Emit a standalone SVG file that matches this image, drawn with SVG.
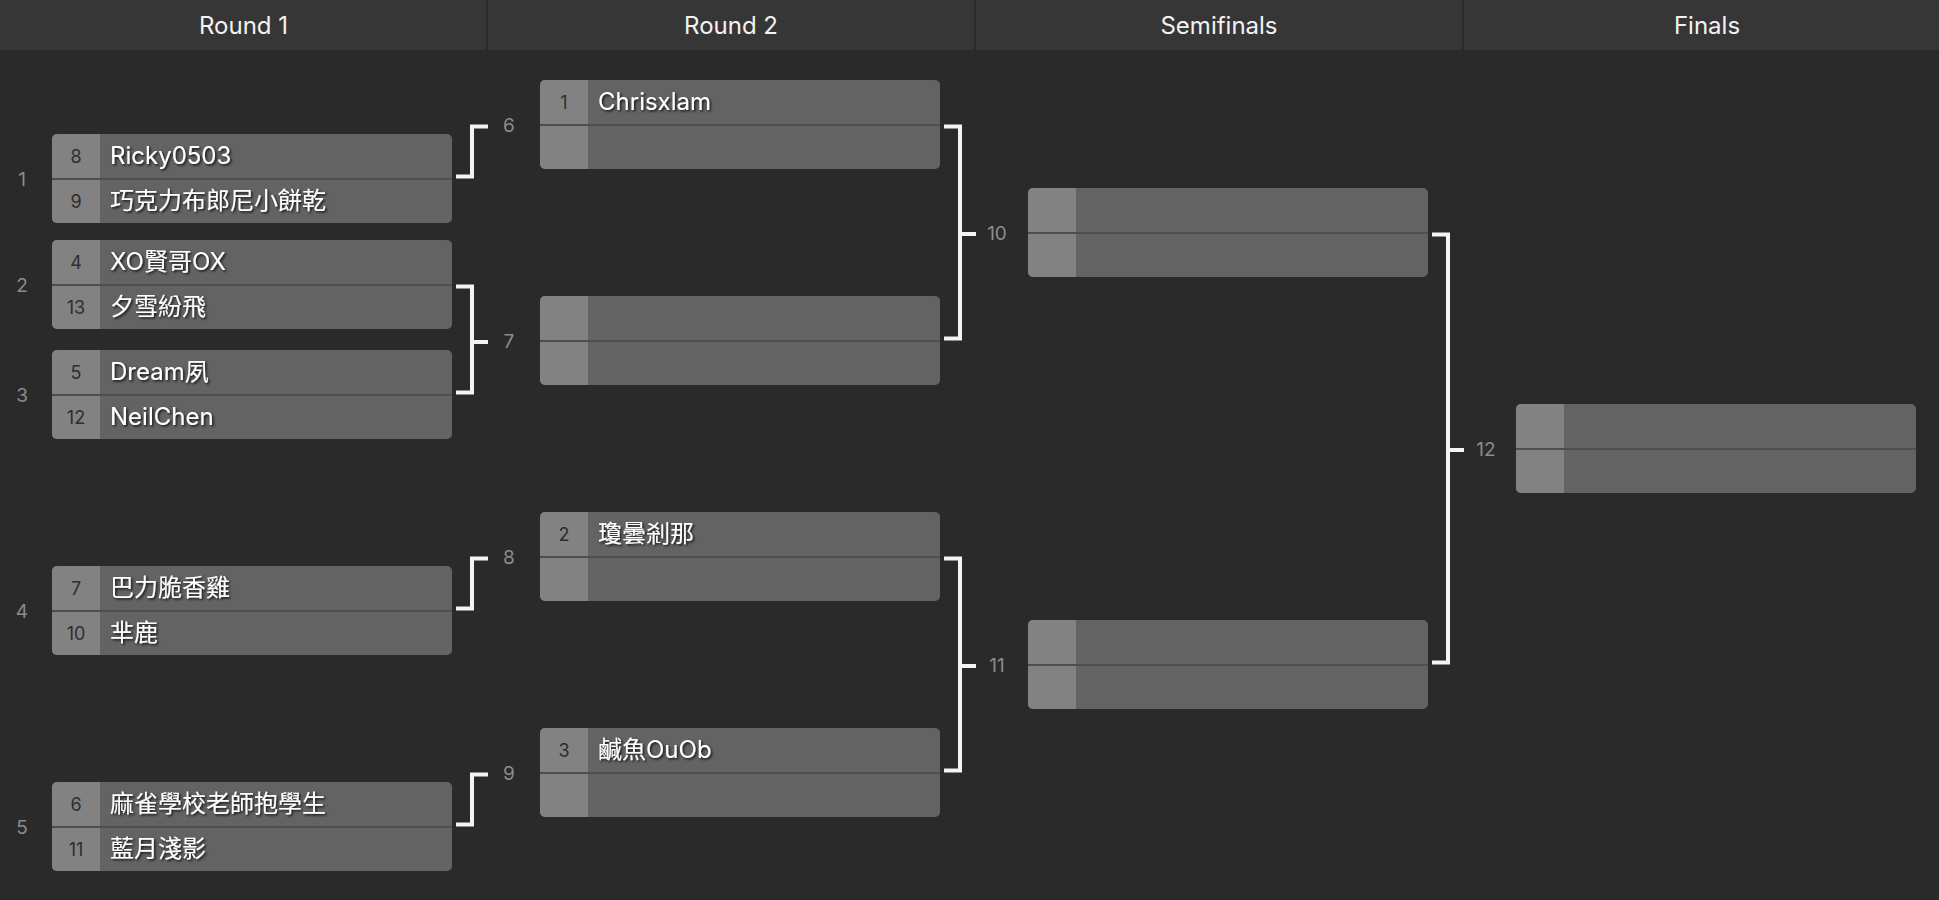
<svg xmlns="http://www.w3.org/2000/svg" xmlns:xlink="http://www.w3.org/1999/xlink" width="1939" height="900" viewBox="0 0 1939 900">
<style>
.hdr{font-family:Inter,"Noto Sans",sans-serif;font-size:24px;fill:#f2f2f2;text-anchor:middle}
.lbl{font-family:Inter,"Noto Sans",sans-serif;font-size:19px;fill:#8c8c8c;text-anchor:middle}
.seed{font-family:Inter,"Noto Sans",sans-serif;font-size:18px;fill:#2e2e2e;text-anchor:middle}
.name{font-family:Inter,"Noto Sans CJK TC","Noto Sans",sans-serif;font-size:24px;fill:#ffffff;filter:url(#sh)}
.conn{fill:none;stroke:#f4f4f4;stroke-width:4;stroke-linejoin:miter;stroke-linecap:butt}
</style>
<defs>
<filter id="sh" x="-10%" y="-30%" width="130%" height="170%">
<feDropShadow dx="1.5" dy="1.5" stdDeviation="1" flood-color="#000" flood-opacity="0.8"/>
</filter>
<g id="box">
<rect x="0" y="0" width="400" height="89" rx="5" fill="#636363"/>
<path d="M5,0 H48 V89 H5 A5,5 0 0 1 0,84 V5 A5,5 0 0 1 5,0 Z" fill="#828282"/>
<rect x="0" y="44" width="400" height="2" fill="#4e4e4e"/>
</g>
</defs>
<rect x="0" y="0" width="1939" height="900" fill="#2a2a2a"/>
<g id="header">
<rect x="0" y="0" width="1939" height="50" fill="#363636"/>
<rect x="486" y="0" width="2" height="50" fill="#2c2c2c"/>
<rect x="974" y="0" width="2" height="50" fill="#2c2c2c"/>
<rect x="1462" y="0" width="2" height="50" fill="#2c2c2c"/>
<text class="hdr" x="243.5" y="33.5">Round 1</text>
<text class="hdr" x="731" y="33.5">Round 2</text>
<text class="hdr" x="1219" y="33.5">Semifinals</text>
<text class="hdr" x="1707" y="33.5">Finals</text>
</g>
<g id="connectors">
<path class="conn" d="M456,176.5 H472 V126.5 H488"/>
<path class="conn" d="M456,286.5 H472 V392.5 H456 M472,342 H488"/>
<path class="conn" d="M456,608.5 H472 V558.5 H488"/>
<path class="conn" d="M456,824.5 H472 V774.5 H488"/>
<path class="conn" d="M944,126.5 H960 V338.5 H944 M960,234 H976"/>
<path class="conn" d="M944,558.5 H960 V770.5 H944 M960,666 H976"/>
<path class="conn" d="M1432,234.5 H1448 V662.5 H1432 M1448,450 H1464"/>
</g>
<g id="match1">
<text class="lbl" x="22" y="185.5">1</text>
<use xlink:href="#box" x="52" y="134"/>
<text class="seed" x="76" y="162.5">8</text><text class="name" x="110" y="164">Ricky0503</text>
<text class="seed" x="76" y="207.5">9</text><text class="name" x="110" y="209">巧克力布郎尼小餅乾</text>
</g>
<g id="match2">
<text class="lbl" x="22" y="291.5">2</text>
<use xlink:href="#box" x="52" y="240"/>
<text class="seed" x="76" y="268.5">4</text><text class="name" x="110" y="270">XO賢哥OX</text>
<text class="seed" x="76" y="313.5">13</text><text class="name" x="110" y="315">夕雪紛飛</text>
</g>
<g id="match3">
<text class="lbl" x="22" y="401.5">3</text>
<use xlink:href="#box" x="52" y="350"/>
<text class="seed" x="76" y="378.5">5</text><text class="name" x="110" y="380">Dream夙</text>
<text class="seed" x="76" y="423.5">12</text><text class="name" x="110" y="425">NeilChen</text>
</g>
<g id="match4">
<text class="lbl" x="22" y="617.5">4</text>
<use xlink:href="#box" x="52" y="566"/>
<text class="seed" x="76" y="594.5">7</text><text class="name" x="110" y="596">巴力脆香雞</text>
<text class="seed" x="76" y="639.5">10</text><text class="name" x="110" y="641">芈鹿</text>
</g>
<g id="match5">
<text class="lbl" x="22" y="833.5">5</text>
<use xlink:href="#box" x="52" y="782"/>
<text class="seed" x="76" y="810.5">6</text><text class="name" x="110" y="812">麻雀學校老師抱學生</text>
<text class="seed" x="76" y="855.5">11</text><text class="name" x="110" y="857">藍月淺影</text>
</g>
<g id="match6">
<text class="lbl" x="509" y="131.5">6</text>
<use xlink:href="#box" x="540" y="80"/>
<text class="seed" x="564" y="108.5">1</text><text class="name" x="598" y="110">Chrisxlam</text>
</g>
<g id="match7">
<text class="lbl" x="509" y="347.5">7</text>
<use xlink:href="#box" x="540" y="296"/>
</g>
<g id="match8">
<text class="lbl" x="509" y="563.5">8</text>
<use xlink:href="#box" x="540" y="512"/>
<text class="seed" x="564" y="540.5">2</text><text class="name" x="598" y="542">瓊曇剎那</text>
</g>
<g id="match9">
<text class="lbl" x="509" y="779.5">9</text>
<use xlink:href="#box" x="540" y="728"/>
<text class="seed" x="564" y="756.5">3</text><text class="name" x="598" y="758">鹹魚OuOb</text>
</g>
<g id="match10">
<text class="lbl" x="997" y="239.5">10</text>
<use xlink:href="#box" x="1028" y="188"/>
</g>
<g id="match11">
<text class="lbl" x="997" y="671.5">11</text>
<use xlink:href="#box" x="1028" y="620"/>
</g>
<g id="match12">
<text class="lbl" x="1486" y="455.5">12</text>
<use xlink:href="#box" x="1516" y="404"/>
</g>
</svg>
